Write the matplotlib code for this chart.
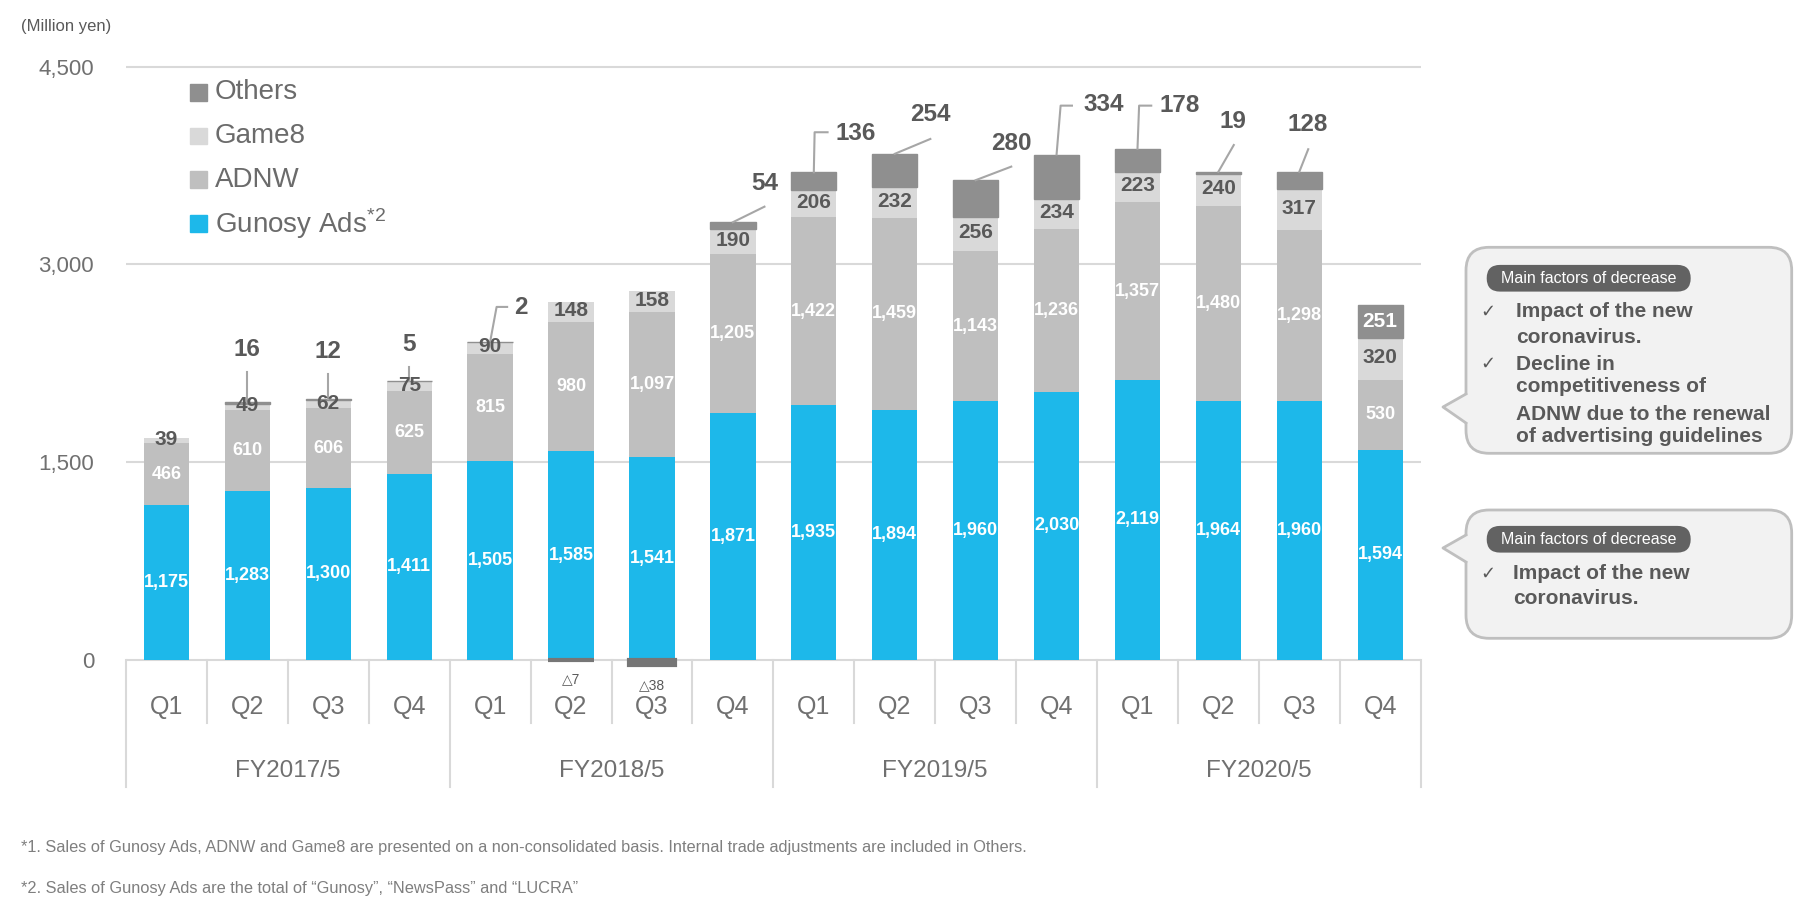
import numpy as np
import matplotlib.pyplot as plt
from matplotlib.patches import FancyBboxPatch, Polygon, Rectangle
from matplotlib.lines import Line2D

plt.rcParams['font.family'] = ['Liberation Sans', 'DejaVu Sans']
plt.rcParams['mathtext.fontset'] = 'custom'
plt.rcParams['mathtext.rm'] = 'Liberation Sans'

W, H = 1813, 901

# data (million yen)
quarters = ['Q1', 'Q2', 'Q3', 'Q4'] * 4
years = ['FY2017/5', 'FY2018/5', 'FY2019/5', 'FY2020/5']
gunosy = [1175, 1283, 1300, 1411, 1505, 1585, 1541, 1871, 1935, 1894, 1960, 2030, 2119, 1964, 1960, 1594]
adnw = [466, 610, 606, 625, 815, 980, 1097, 1205, 1422, 1459, 1143, 1236, 1357, 1480, 1298, 530]
game8 = [39, 49, 62, 75, 90, 148, 158, 190, 206, 232, 256, 234, 223, 240, 317, 320]
others = [0, 16, 12, 5, 2, -7, -38, 54, 136, 254, 280, 334, 178, 19, 128, 251]

c_gun, c_adnw, c_game8, c_oth, c_neg = '#1DB8EA', '#BFBFBF', '#D9D9D9', '#8F8F8F', '#767676'
c_txt, c_axis = '#595959', '#707070'

# where the "Others" labels sit (label centre, then the elbow points of the leader)
others_callouts = {
    1: ((1.0, 2350), [(1.0, 2181)]),
    2: ((2.0, 2337), [(2.0, 2166)]),
    3: ((3.0, 2388), [(3.0, 2219)]),
    4: ((4.38, 2671), [(4.21, 2677), (4.08, 2677)]),
    7: ((7.39, 3616), [(7.39, 3438)]),
    8: ((8.52, 3995), [(8.17, 4003), (8.01, 4003)]),
    9: ((9.44, 4134), [(9.44, 3952)]),
    10: ((10.44, 3919), [(10.44, 3742)]),
    11: ((11.58, 4210), [(11.19, 4205), (11.05, 4205)]),
    12: ((12.52, 4203), [(12.17, 4205), (12.02, 4205)]),
    13: ((13.18, 4083), [(13.19, 3906)]),
    14: ((14.10, 4058), [(14.11, 3874)]),
}


def fx(x):
    return x / W


def fy(y):
    return 1 - y / H


fig = plt.figure(figsize=(W / 100, H / 100), dpi=100)
ax = fig.add_axes([fx(126), fy(791.3), (1420.7 - 126) / W, (791.3 - 53.6) / H])
ax.set_xlim(-0.5, 15.5)
ax.set_ylim(-1000, 4600)
for s in ax.spines.values():
    s.set_visible(False)
ax.set_axisbelow(True)
ax.set_yticks([0, 1500, 3000, 4500])
ax.set_yticklabels(['0', '1,500', '3,000', '4,500'])
ax.tick_params(axis='y', length=0, pad=23, labelsize=16, labelcolor=c_axis)
ax.set_xticks([])
ax.yaxis.grid(True, color='#D9D9D9', lw=1.5)

x = np.arange(len(gunosy))
g = np.array(gunosy)
a = np.array(adnw)
m = np.array(game8)
o = np.array(others)
bw = 0.56

ax.bar(x, g, bw, color=c_gun, zorder=2)
ax.bar(x, a, bw, bottom=g, color=c_adnw, zorder=2)
ax.bar(x, m, bw, bottom=g + a, color=c_game8, zorder=2)
pos = o > 0
ax.bar(x[pos], o[pos], bw, bottom=(g + a + m)[pos], color=c_oth, edgecolor=c_oth, lw=1.0, zorder=2)
neg = o < 0
ax.bar(x[neg], o[neg], bw, color=c_neg, edgecolor=c_neg, lw=3, zorder=3)

for i in x:
    ax.text(i, g[i] / 2, f'{g[i]:,}', ha='center', va='center', color='white',
            fontsize=13, fontweight='bold', zorder=4)
    ax.text(i, g[i] + a[i] / 2, f'{a[i]:,}', ha='center', va='center', color='white',
            fontsize=13, fontweight='bold', zorder=4)
    ax.text(i, g[i] + a[i] + m[i] / 2 + 10, f'{m[i]:,}', ha='center', va='center', color=c_txt,
            fontsize=15, fontweight='bold', zorder=4)
    top = g[i] + a[i] + m[i] + max(o[i], 0)
    if o[i] < 0:
        ax.text(i, -150 - 45 * (len(str(abs(o[i]))) - 1), '△' + str(abs(o[i])), ha='center', va='center',
                color=c_txt, fontsize=10, family=['Liberation Sans', 'DejaVu Sans'])
    elif i in others_callouts:
        (lx, ly), pts = others_callouts[i]
        pts = pts + [(i, top)]
        ax.plot([p[0] for p in pts], [p[1] for p in pts], color='#A6A6A6', lw=1.5, zorder=3)
        ax.text(lx, ly, f'{o[i]:,}', ha='center', va='center', color=c_txt,
                fontsize=17.5, fontweight='bold', zorder=4)
    elif o[i] > 0:
        ax.text(i, top - o[i] / 2, f'{o[i]:,}', ha='center', va='center', color='white',
                fontsize=15, fontweight='bold', zorder=4)

# category table below the bars
for k in range(17):
    xb = k - 0.5
    y_end = -965 if k % 4 == 0 else -484
    ax.plot([xb, xb], [0, y_end], color='#D9D9D9', lw=1.5, clip_on=False, zorder=1)
for i in x:
    ax.text(i, -358, quarters[i], ha='center', va='center', color=c_axis, fontsize=18)
for k, yr in enumerate(years):
    ax.text(4 * k + 1.5, -843, yr, ha='center', va='center', color=c_axis, fontsize=17.5)

# unit
fig.text(fx(21), fy(27), '(Million yen)', ha='left', va='center', color=c_txt, fontsize=12)

# legend
leg_items = [('Others', c_oth), ('Game8', c_game8), ('ADNW', c_adnw),
             (r'Gunosy Ads$^{\mathregular{*2}}$', c_gun)]
for k, (lab, col) in enumerate(leg_items):
    yc = 92.3 + 43.7 * k
    fig.patches.append(Rectangle((1.90, (H - yc - 8.3) / 100), 0.167, 0.167,
                                 transform=fig.dpi_scale_trans, color=col))
    fig.text(fx(215), fy(yc), lab, ha='left', va='center', color='#6B6B6B', fontsize=20)


# callout boxes
def callout(y0, y1, tip_y, base, pill_y, lines, text_x):
    tr = fig.dpi_scale_trans
    x0, x1 = 1466, 1791.7
    box = FancyBboxPatch((x0 / 100, (H - y1) / 100), (x1 - x0) / 100, (y1 - y0) / 100,
                         boxstyle='round,pad=0,rounding_size=0.23', transform=tr,
                         facecolor='#F2F2F2', edgecolor='#BFBFBF', lw=2)
    fig.patches.append(box)
    tip = (1443 / 100, (H - tip_y) / 100)
    b0 = (x0 / 100, (H - base[0]) / 100)
    b1 = (x0 / 100, (H - base[1]) / 100)
    fig.patches.append(Polygon([tip, b0, ((x0 + 3) / 100, b0[1]), ((x0 + 3) / 100, b1[1]), b1],
                               closed=True, transform=tr, facecolor='#F2F2F2', edgecolor='none'))
    fig.lines.append(Line2D([b0[0], tip[0], b1[0]], [b0[1], tip[1], b1[1]], transform=tr,
                            color='#BFBFBF', lw=2))
    pill = FancyBboxPatch((1486.7 / 100, (H - pill_y - 13.3) / 100), 2.04, 0.267,
                          boxstyle='round,pad=0,rounding_size=0.133', transform=tr,
                          facecolor='#626262', edgecolor='none')
    fig.patches.append(pill)
    fig.text(fx(1588.7), fy(pill_y), 'Main factors of decrease', ha='center', va='center',
             color='white', fontsize=11.5)
    for txt, yy, check in lines:
        if check:
            fig.text(fx(1488), fy(yy), '✓', ha='center', va='center', color=c_txt,
                     fontsize=13, family=['DejaVu Sans'])
        fig.text(fx(text_x), fy(yy), txt, ha='left', va='center', color=c_txt,
                 fontsize=15, fontweight='bold')


callout(247.3, 453.3, 407, (394, 423), 278.3,
        [('Impact of the new', 311.7, True), ('coronavirus.', 337.3, False),
         ('Decline in', 364, True), ('competitiveness of', 386.7, False),
         ('ADNW due to the renewal', 414, False), ('of advertising guidelines', 436.7, False)],
        1516)
callout(510, 638.3, 548, (535, 562), 539.3,
        [('Impact of the new', 573.3, True), ('coronavirus.', 598.3, False)], 1513)

# footnotes
fig.text(fx(21), fy(847.6), '*1. Sales of Gunosy Ads, ADNW and Game8 are presented on a non-consolidated basis. '
         'Internal trade adjustments are included in Others.', ha='left', va='center', color='#7F7F7F', fontsize=11.8)
fig.text(fx(21), fy(888), '*2. Sales of Gunosy Ads are the total of \u201cGunosy\u201d, \u201cNewsPass\u201d and \u201cLUCRA\u201d',
         ha='left', va='center', color='#7F7F7F', fontsize=11.8)

fig.savefig('out.png', dpi=100)
